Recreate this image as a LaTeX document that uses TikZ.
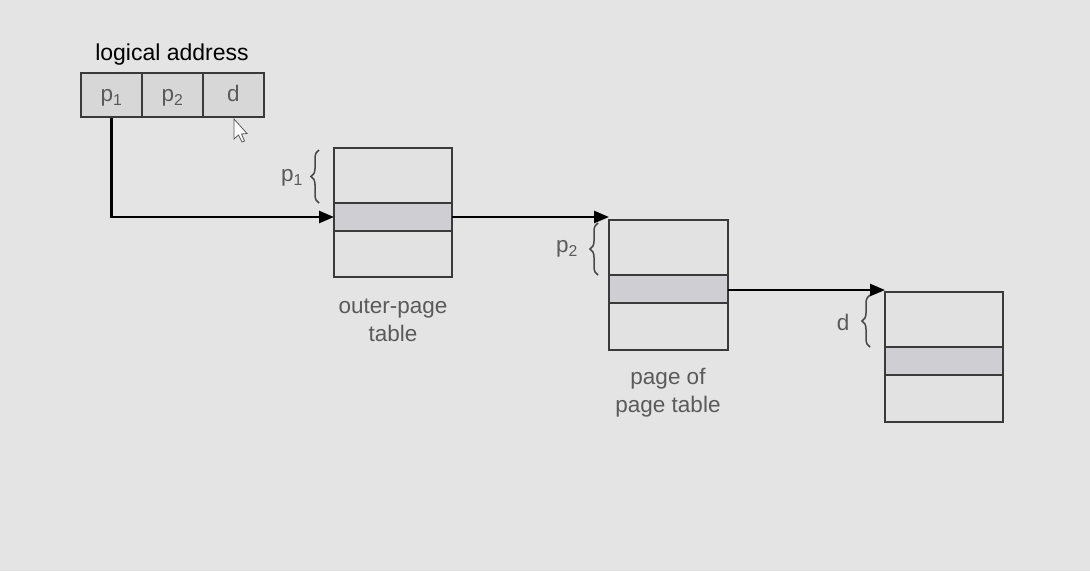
\documentclass[tikz,border=0pt]{standalone}
\usepackage{fontspec}
\setmainfont{Liberation Sans}
\usetikzlibrary{arrows.meta,decorations.pathreplacing}
\definecolor{bg}{HTML}{E4E4E4}
\definecolor{cellfill}{HTML}{E2E2E2}
\definecolor{hifill}{HTML}{CFCFD3}
\definecolor{addrfill}{HTML}{D7D7D7}
\definecolor{edge}{HTML}{3A3A3A}
\definecolor{labgray}{HTML}{5A5A5A}
\begin{document}
\begin{tikzpicture}[x=1pt,y=-1pt,
  cell/.style={draw=edge,line width=2pt,fill=cellfill},
  hirow/.style={draw=edge,line width=2pt,fill=hifill},
  addr/.style={draw=edge,line width=2pt,fill=addrfill,minimum width=61pt,minimum height=44pt,inner sep=0pt,anchor=north west},
  lab/.style={text=labgray,font=\fontsize{22.5}{28}\selectfont,align=center},
  conn/.style={line width=2.6pt,draw=black,-{Triangle[length=15pt,width=12pt]}},
  brc/.style={draw=labgray!80!black,line width=1.5pt,decorate,decoration={brace,amplitude=8pt}}]
\fill[bg] (0,0) rectangle (1090,571);
\useasboundingbox (0,0) rectangle (1090,571);
% logical address
\node[font=\fontsize{23}{27}\selectfont,text=black] (title) at (172,55) {logical address};
\node[addr] (a1) at (80,72) {};
\node[addr] (a2) at (141,72) {};
\node[addr] (a3) at (202,72) {};
\node[lab] at ([yshift=-3pt]a1.center) {p\textsubscript{1}};
\node[lab] at ([yshift=-3pt]a2.center) {p\textsubscript{2}};
\node[lab] at ([yshift=2pt]a3.center) {d};
% cursor
\draw[draw=labgray,fill=white!90!bg,line width=0.8pt] (234,119) -- (234,139) -- (238.5,135) -- (242,142) -- (244.5,141) -- (241.5,134) -- (247,133.5) -- cycle;
% outer page table
\draw[cell] (334,148) rectangle (452,277);
\draw[hirow] (334,203) rectangle (452,231);
\coordinate (t1in) at (334,217);
\coordinate (t1out) at (452,217);
\node[lab] (t1lab) at (393,320) {outer-page\\table};
\draw[brc] (319,203) -- (319,150);
\node[lab] (bp1) at (292,178) {p\textsubscript{1}};
% page of page table
\draw[cell] (609,220) rectangle (728,350);
\draw[hirow] (609,275) rectangle (728,303);
\coordinate (t2in) at (609,217);
\coordinate (t2out) at (728,290);
\node[lab] (t2lab) at (668,393) {page of\\page table};
\draw[brc] (598,275) -- (598,223);
\node[lab] (bp2) at (567,249) {p\textsubscript{2}};
% page
\draw[cell] (885,292) rectangle (1003,422);
\draw[hirow] (885,347) rectangle (1003,375);
\coordinate (t3in) at (885,290);
\draw[brc] (870,347) -- (870,295);
\node[lab] (bd) at (843,322) {d};
% connectors
\draw[conn] (a1.south) |- (t1in);
\draw[conn] (t1out) -- (t2in);
\draw[conn] (t2out) -- (t3in);
\end{tikzpicture}
\end{document}
